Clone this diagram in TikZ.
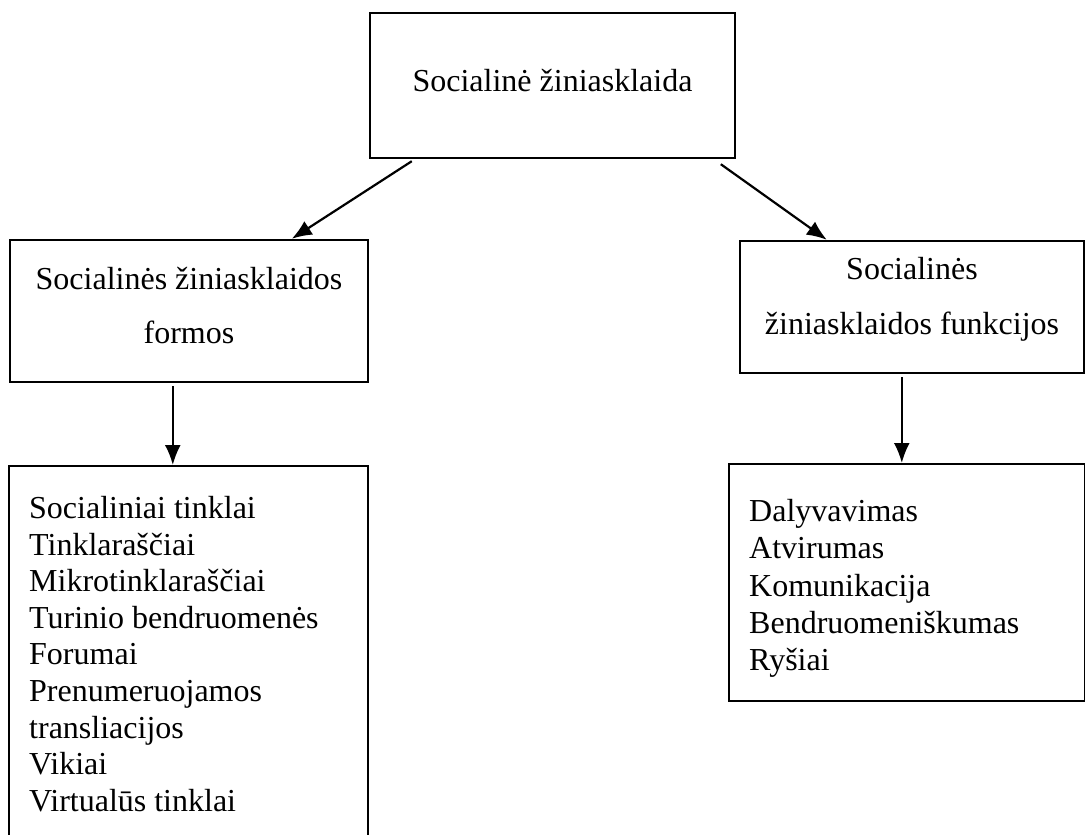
\documentclass[tikz,border=0pt]{standalone}
\usepackage{fontspec}
\setmainfont{Liberation Serif}
\usepackage{tikz}
\usetikzlibrary{calc,arrows.meta}

\begin{document}
\begin{tikzpicture}[x=1pt, y=-1pt,
    every node/.style={font=\fontsize{32}{37}\selectfont},
    box/.style={draw, line width=2.4pt, inner sep=0pt},
    arr/.style={line width=2.2pt, -{Latex[length=20pt,width=16pt]}}]
    \useasboundingbox (0,0) rectangle (1085,835);

    % top
    \node[box, text depth=10pt, minimum width=365pt, minimum height=145pt] (socmedia) at (552.5,85.5) {Socialinė žiniasklaida};

    % second row
    \node[box, align=center, text depth=12pt, font=\fontsize{32}{54}\selectfont, minimum width=358pt, minimum height=142pt] (forms) at (189,311) {Socialinės žiniasklaidos\\formos};
    \node[box, align=center, text depth=22pt, font=\fontsize{32}{55}\selectfont, minimum width=344pt, minimum height=132pt] (functions) at (912,307) {Socialinės\\žiniasklaidos funkcijos};

    % lists
    \node[box, anchor=north west, minimum width=359pt, minimum height=400pt] (formlist) at (8,465) {};
    \node[anchor=north west, align=left, inner sep=0pt, font=\fontsize{32}{36.6}\selectfont] (formitems) at (29,496) {Socialiniai tinklai\\Tinklaraščiai\\Mikrotinklaraščiai\\Turinio bendruomenės\\Forumai\\Prenumeruojamos\\transliacijos\\Vikiai\\Virtualūs tinklai};
    \node[box, anchor=north west, minimum width=356pt, minimum height=237pt] (funclist) at (728,463) {};
    \node[anchor=north west, align=left, inner sep=0pt, font=\fontsize{32}{37.3}\selectfont] (funcitems) at (749,499) {Dalyvavimas\\Atvirumas\\Komunikacija\\Bendruomeniškumas\\Ryšiai};

    % arrows
    \coordinate (formsout) at ($(forms.south west)+(164,3)$);
    \coordinate (funcsout) at ($(functions.south west)+(163,3)$);
    \draw[arr] ($(socmedia.south west)+(43,2)$) -- ($(forms.north west)+(283,0)$);
    \draw[arr] ($(socmedia.south west)+(352,5)$) -- ($(functions.north west)+(88,0)$);
    \draw[arr] (formsout) -- (formsout |- formlist.north);
    \draw[arr] (funcsout) -- (funcsout |- funclist.north);
\end{tikzpicture}
\end{document}
